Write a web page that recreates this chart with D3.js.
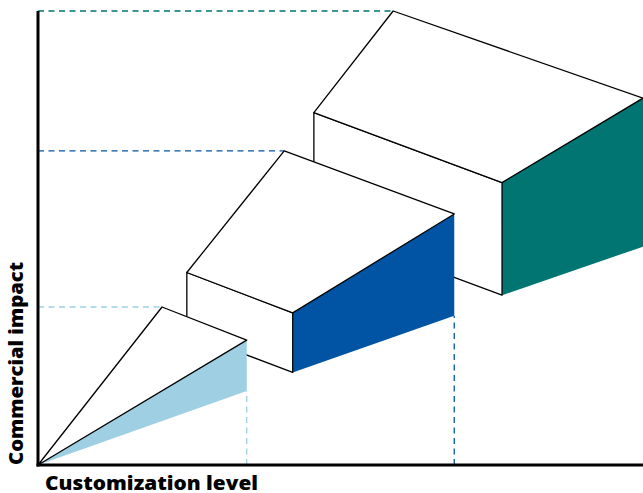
<!DOCTYPE html>
<html>
<head>
<meta charset="utf-8">
<script src="https://cdn.jsdelivr.net/npm/d3@7"></script>
<style>
  html, body { margin: 0; padding: 0; background: #fff; }
  svg { display: block; }
</style>
</head>
<body>
<svg id="chart" width="643" height="493"></svg>
<script>
// ---- data (abstract units, 0-100 on both axes) ----
const categories = ["Basic", "Intermediate", "Advanced"];
const colors = ["#9fcfe2", "#0054a3", "#007571"];
// level reached by each stage on the two axes
const levelX = [34.5, 68.8, 100];   // customization level (right edge of each shape)
const levelY = [34.8, 69.2, 100];   // commercial impact (peak of each shape)
const axisLabels = { x: "Customization level", y: "Commercial impact" };

// shape outlines in data units (top face, front face, coloured side face)
const wedgeTop   = [[0, 0], [20.5, 34.8], [34.5, 27.5]];
const wedgeSide  = [[0, 0], [34.5, 27.5], [34.5, 16.3]];
const box1Top    = [[24.6, 42.4], [40.7, 69.2], [68.8, 55.3], [42.1, 33.5]];
const box1Front  = [[24.6, 42.4], [42.1, 33.5], [42.1, 20.4], [24.6, 29.2]];
const box1Side   = [[42.1, 33.5], [68.8, 55.3], [68.8, 32.9], [42.1, 20.4]];
const box2Top    = [[45.6, 77.6], [58.7, 100], [100, 80.8], [76.7, 62.2]];
const box2Front  = [[45.6, 77.6], [76.7, 62.2], [76.7, 37.4], [45.6, 52.8]];
const box2Side   = [[76.7, 62.2], [100, 80.8], [100, 48.1], [76.7, 37.4]];
// apex x of each shape (where the horizontal guide ends)
const apexX = [20.5, 40.7, 58.7];
// bottom of each coloured side at its right edge (where vertical guide ends)
const sideBottom = [16.3, 32.9, 48.1];

const shapes = [
  { top: box2Top, front: box2Front, side: box2Side, color: colors[2] },
  { top: box1Top, front: box1Front, side: box1Side, color: colors[1] },
  { top: wedgeTop, front: null, side: wedgeSide, color: colors[0] }
];

// ---- drawing ----
const svg = d3.select("#chart");
const x = d3.scaleLinear().domain([0, 100]).range([38, 643]);
const y = d3.scaleLinear().domain([0, 100]).range([465, 11]);
const line = d3.line().x(d => x(d[0])).y(d => y(d[1])).curve(d3.curveLinearClosed);
const open = d3.line().x(d => x(d[0])).y(d => y(d[1]));

// guides
const guides = svg.append("g").attr("fill", "none").attr("stroke-width", 1.3).attr("stroke-dasharray", "6,4.5");
levelY.forEach((v, i) => {
  guides.append("path").attr("stroke", colors[i]).attr("d", open([[0, v], [apexX[i], v]]));
});
[0, 1].forEach(i => {
  guides.append("path").attr("stroke", colors[i]).attr("d", open([[levelX[i], 0], [levelX[i], sideBottom[i]]]));
});

// shapes, back to front
shapes.forEach(s => {
  const g = svg.append("g");
  g.append("path").attr("d", line(s.side)).attr("fill", s.color).attr("stroke", "none");
  if (s.front) g.append("path").attr("d", line(s.front)).attr("fill", "#fff").attr("stroke", "#000").attr("stroke-width", 1.3).attr("stroke-linejoin", "round");
  g.append("path").attr("d", line(s.top)).attr("fill", "#fff").attr("stroke", "#000").attr("stroke-width", 1.3).attr("stroke-linejoin", "round");
});

// axes
const xAxis = svg.append("g").attr("transform", `translate(0,${y(0)})`)
  .call(d3.axisBottom(x).tickValues([]).tickSizeOuter(0));
const yAxis = svg.append("g").attr("transform", `translate(${x(0)},0)`)
  .call(d3.axisLeft(y).tickValues([]).tickSizeOuter(0));
svg.selectAll(".domain").attr("stroke", "#000").attr("stroke-width", 3);
xAxis.select(".domain").attr("d", `M${x(0) - 1.5},0H${x(100)}`);
yAxis.select(".domain").attr("d", `M0,${y(100)}V${y(0) + 1.5}`);

// labels
svg.append("text").attr("x", 45).attr("y", 490)
  .attr("font-family", "'Open Sans', Lato, sans-serif").attr("font-weight", 800)
  .attr("font-size", 19.5).attr("fill", "#000")
  .attr("textLength", 213).attr("lengthAdjust", "spacingAndGlyphs")
  .text(axisLabels.x);
svg.append("text").attr("transform", "translate(23,465) rotate(-90)")
  .attr("font-family", "'Open Sans', Lato, sans-serif").attr("font-weight", 800)
  .attr("font-size", 19).attr("fill", "#000")
  .attr("textLength", 203).attr("lengthAdjust", "spacingAndGlyphs")
  .text(axisLabels.y);
</script>
</body>
</html>
